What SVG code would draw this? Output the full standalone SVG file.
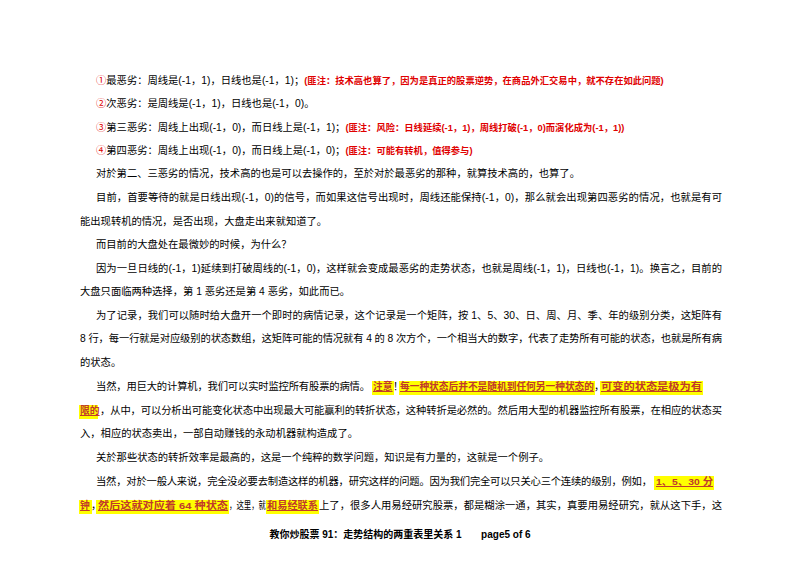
<svg xmlns="http://www.w3.org/2000/svg" width="800" height="566" viewBox="0 0 800 566">
<style>
text{font-family:"Liberation Sans","Noto Sans CJK SC",sans-serif;font-size:10.3px;fill:#000}
.r{fill:#e00000;font-weight:bold;font-size:9.3px}
.n{fill:#e00000}
.h{fill:#c0392b;font-weight:bold;text-decoration:underline;font-size:9.8px}
.hl{fill:#ffff00}
.f{font-weight:bold;font-size:10px}
</style>
<rect width="800" height="566" fill="#fff"/>
<g id="body">
<text x="96" y="84"><tspan class="n">①</tspan>最恶劣：周线是(-1，1)，日线也是(-1，1)；<tspan class="r">(匪注：技术高也算了，因为是真正的股票逆势，在商品外汇交易中，就不存在如此问题)</tspan></text>
<text x="96" y="107"><tspan class="n">②</tspan>次恶劣：是周线是(-1，1)，日线也是(-1，0)。</text>
<text x="96" y="131"><tspan class="n">③</tspan>第三恶劣：周线上出现(-1，0)，而日线上是(-1，1)；<tspan class="r">(匪注：风险：日线延续(-1，1)，周线打破(-1，0)而演化成为(-1，1))</tspan></text>
<text x="96" y="154"><tspan class="n">④</tspan>第四恶劣：周线上出现(-1，0)，而日线上是(-1，0)；<tspan class="r">(匪注：可能有转机，值得参与)</tspan></text>
<text x="96" y="177">对於第二、三恶劣的情况，技术高的也是可以去操作的，至於对於最恶劣的那种，就算技术高的，也算了。</text>
<text x="96" y="201" textLength="626" lengthAdjust="spacing">目前，首要等待的就是日线出现(-1，0)的信号，而如果这信号出现时，周线还能保持(-1，0)，那么就会出现第四恶劣的情况，也就是有可</text>
<text x="80" y="225">能出现转机的情况，是否出现，大盘走出来就知道了。</text>
<text x="96" y="248">而目前的大盘处在最微妙的时候，为什么？</text>
<text x="96" y="272" textLength="626" lengthAdjust="spacing">因为一旦日线的(-1，1)延续到打破周线的(-1，0)，这样就会变成最恶劣的走势状态，也就是周线(-1，1)，日线也(-1，1)。换言之，目前的</text>
<text x="80" y="295">大盘只面临两种选择，第 1 恶劣还是第 4 恶劣，如此而已。</text>
<text x="96" y="319" textLength="626" lengthAdjust="spacing">为了记录，我们可以随时给大盘开一个即时的病情记录，这个记录是一个矩阵，按 1、5、30、日、周、月、季、年的级别分类，这矩阵有</text>
<text x="80" y="342" textLength="642" lengthAdjust="spacing">8 行，每一行就是对应级别的状态数组，这矩阵可能的情况就有 4 的 8 次方个，一个相当大的数字，代表了走势所有可能的状态，也就是所有病</text>
<text x="80" y="366">的状态。</text>
<rect class="hl" x="372" y="381" width="22" height="14"/>
<rect class="hl" x="399" y="381" width="196" height="14"/>
<rect class="hl" x="600" y="381" width="103" height="14"/>
<text x="96" y="390" textLength="274" lengthAdjust="spacing">当然，用巨大的计算机，我们可以实时监控所有股票的病情。</text>
<text x="373" y="390" class="h">注意</text>
<text x="393" y="390">！</text>
<text x="400" y="390" class="h" textLength="194" lengthAdjust="spacingAndGlyphs">每一种状态后并不是随机到任何另一种状态的</text>
<text x="594" y="390">，</text>
<text x="601" y="390" class="h" textLength="101" lengthAdjust="spacingAndGlyphs">可变的状态是极为有</text>
<rect class="hl" x="79" y="405" width="19" height="14"/>
<text x="80" y="414" class="h">限的</text>
<text x="100" y="414" textLength="622" lengthAdjust="spacing">，从中，可以分析出可能变化状态中出现最大可能赢利的转折状态，这种转折是必然的。然后用大型的机器监控所有股票，在相应的状态买</text>
<text x="80" y="437">入，相应的状态卖出，一部自动赚钱的永动机器就构造成了。</text>
<text x="96" y="461">关於那些状态的转折效率是最高的，这是一个纯粹的数学问题，知识是有力量的，这就是一个例子。</text>
<rect class="hl" x="654" y="476" width="60" height="14"/>
<text x="96" y="485" textLength="556" lengthAdjust="spacing">当然，对於一般人来说，完全没必要去制造这样的机器，研究这样的问题。因为我们完全可以只关心三个连续的级别，例如，</text>
<text x="656" y="485" class="h" textLength="57" lengthAdjust="spacingAndGlyphs">1、5、30 分</text>
<rect class="hl" x="79" y="500" width="13" height="14"/>
<rect class="hl" x="96" y="500" width="133" height="14"/>
<rect class="hl" x="266" y="500" width="53" height="14"/>
<text x="80" y="509" class="h">钟</text>
<text x="91" y="509" font-size="9">，</text>
<text x="98" y="509" class="h" textLength="130" lengthAdjust="spacingAndGlyphs">然后这就对应着 64 种状态</text>
<text x="229" y="509" textLength="37" lengthAdjust="spacingAndGlyphs">，这里，就</text>
<text x="267" y="509" class="h" textLength="51" lengthAdjust="spacingAndGlyphs">和易经联系</text>
<text x="319" y="509" textLength="403" lengthAdjust="spacing">上了，很多人用易经研究股票，都是糊涂一通，其实，真要用易经研究，就从这下手，这</text>
</g>
<g id="footer">
<text x="400" y="538" class="f" text-anchor="middle" xml:space="preserve">教你炒股票 91：走势结构的两重表里关系 1       page5 of 6</text>
</g>
</svg>
